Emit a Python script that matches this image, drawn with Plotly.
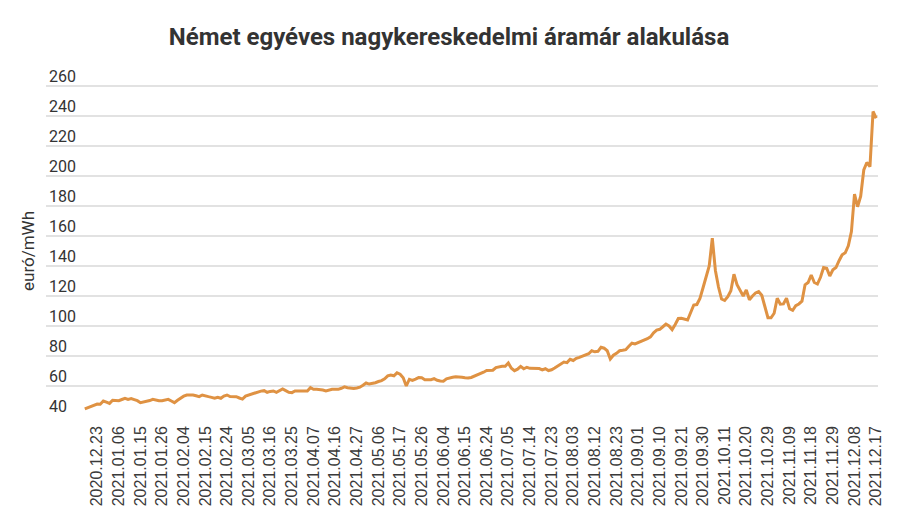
import plotly.graph_objects as go

title_text = "Német egyéves nagykereskedelmi áramár alakulása"
y_title = "euró/mWh"

tick_labels = [
    "2020.12.23", "2021.01.06", "2021.01.15", "2021.01.26", "2021.02.04", "2021.02.15",
    "2021.02.24", "2021.03.05", "2021.03.16", "2021.03.25", "2021.04.07", "2021.04.16",
    "2021.04.27", "2021.05.06", "2021.05.17", "2021.05.26", "2021.06.04", "2021.06.15",
    "2021.06.24", "2021.07.05", "2021.07.14", "2021.07.23", "2021.08.03", "2021.08.12",
    "2021.08.23", "2021.09.01", "2021.09.10", "2021.09.21", "2021.09.30", "2021.10.11",
    "2021.10.20", "2021.10.29", "2021.11.09", "2021.11.18", "2021.11.29", "2021.12.08",
    "2021.12.17",
]
first_tick_index = 4
tick_step = 7

prices_part1 = [
    44.7, 45.5, 46.5, 47.3, 48.0, 47.8, 50.0, 49.2, 48.4, 50.5,
    50.3, 50.2, 51.0, 51.8, 51.1, 51.6, 50.9, 50.2, 48.9, 49.2,
    49.6, 50.3, 51.1, 50.4, 50.2, 50.2, 50.6, 51.1, 50.0, 48.9,
    50.5, 52.0, 53.2, 54.0, 54.1, 54.0, 53.5, 52.9, 54.0, 53.2,
    52.9, 52.4, 51.8, 52.4, 51.8, 53.3, 54.0, 53.0, 52.9, 52.9,
    52.0, 51.3, 53.3, 54.0, 54.4, 55.3, 56.2, 56.6, 56.9, 55.8,
    56.4, 56.7, 55.8, 56.8, 58.0, 56.9, 55.8, 55.6, 56.7, 56.7,
    56.7, 56.6, 56.7, 58.9, 57.8, 57.8, 57.8, 57.3, 56.7, 57.4,
    57.8, 57.8, 57.8, 58.5, 59.4, 58.9, 58.6, 58.4, 58.7, 59.2,
]
prices_part2 = [
    60.5, 62.0, 61.3, 61.5, 62.2, 63.0, 63.6, 64.8, 66.8, 67.3,
    66.8, 68.8, 67.9, 65.5, 60.0, 64.5, 63.8, 64.6, 65.6, 65.5,
    64.2, 64.2, 64.2, 64.9, 63.8, 63.3, 63.2, 64.8, 65.5, 65.8,
    66.2, 66.2, 65.8, 65.5, 65.3, 65.7, 66.5, 67.4, 68.5, 69.2,
    70.3, 70.4, 70.5, 72.3, 72.9, 73.1, 73.2, 75.3, 71.8, 70.2,
    71.2, 73.1, 71.5, 72.5, 71.8, 71.6, 71.6, 71.6, 70.7, 71.5,
    70.3, 70.8, 72.0, 73.3, 75.0, 76.0, 75.6, 77.8, 77.0, 78.5,
    79.1, 79.8, 80.5, 81.5, 83.5, 82.8, 83.1, 85.8, 85.2, 83.5,
    78.0, 80.5, 81.8, 83.5, 83.8, 84.2, 86.5, 88.5, 88.0, 88.8,
]
prices_part3 = [
    90.0, 90.8, 91.5, 92.8, 95.5, 97.3, 97.8, 99.5, 101.3, 100.0,
    97.6, 101.0, 105.0, 105.1, 104.5, 104.0, 109.0, 114.0, 114.3, 118.4,
    125.5, 133.5, 140.0, 158.5, 137.0, 126.0, 118.0, 117.0, 119.5, 123.5,
    134.5, 127.5, 124.0, 120.0, 124.0, 117.5, 120.0, 122.0, 123.0, 120.5,
    113.0, 105.5, 105.5, 108.5, 118.5, 114.5, 114.7, 118.5, 111.5, 110.5,
    113.5, 114.7, 116.5, 127.5, 129.0, 134.0, 129.0, 128.0, 132.5, 139.0,
    138.5, 133.3, 137.5, 139.0, 143.5, 147.5, 148.8, 153.5, 163.0, 188.0,
    179.5, 186.5, 204.0, 209.0, 206.3, 243.0, 238.5,
]
prices = prices_part1 + prices_part2 + prices_part3

x_idx = list(range(len(prices)))
tick_positions = [first_tick_index + tick_step * k for k in range(len(tick_labels))]

# The page body has an 8px default margin, so the figure is sized/offset to compensate.
W, H = 884, 503

fig = go.Figure()
fig.add_trace(go.Scatter(
    x=x_idx, y=prices, mode="lines",
    line=dict(color="#DF9243", width=3),
    hoverinfo="y",
))

fig.update_layout(
    width=W, height=H,
    margin=dict(l=38, r=14, t=63, b=95, autoexpand=False),
    paper_bgcolor="white", plot_bgcolor="white",
    showlegend=False,
    title=dict(
        text="<b>" + title_text + "</b>",
        font=dict(family="Roboto", size=24, color="#333333"),
        x=441 / W, xref="container", xanchor="center",
        y=1 - 29 / H, yref="container", yanchor="middle",
    ),
    xaxis=dict(
        range=[-12.55, 256.6],
        tickmode="array", tickvals=tick_positions, ticktext=tick_labels,
        tickangle=-90,
        tickfont=dict(family="Liberation Sans, Arial", size=16, color="#3a3a3a"),
        ticklabelstandoff=6,
        showgrid=False, zeroline=False, showline=False, ticks="",
        automargin=False,
    ),
    yaxis=dict(
        range=[40, 270],
        tickmode="array", tickvals=list(range(40, 261, 20)),
        ticklabelposition="inside top",
        ticklabeloverflow="allow",
        ticklabelshift=2,
        tickfont=dict(family="Roboto", size=16, color="#333333"),
        showgrid=True, gridcolor="#e2e2e2", gridwidth=2,
        zeroline=False, showline=False, ticks="",
        automargin=False,
    ),
    annotations=[dict(
        text=y_title, xref="paper", yref="paper",
        x=(20 - 38) / 832, y=(416 - 251) / 345,
        xanchor="center", yanchor="middle", textangle=-90, showarrow=False,
        font=dict(family="Roboto", size=17, color="#333333"),
    )],
)

fig.write_html("out.html")
